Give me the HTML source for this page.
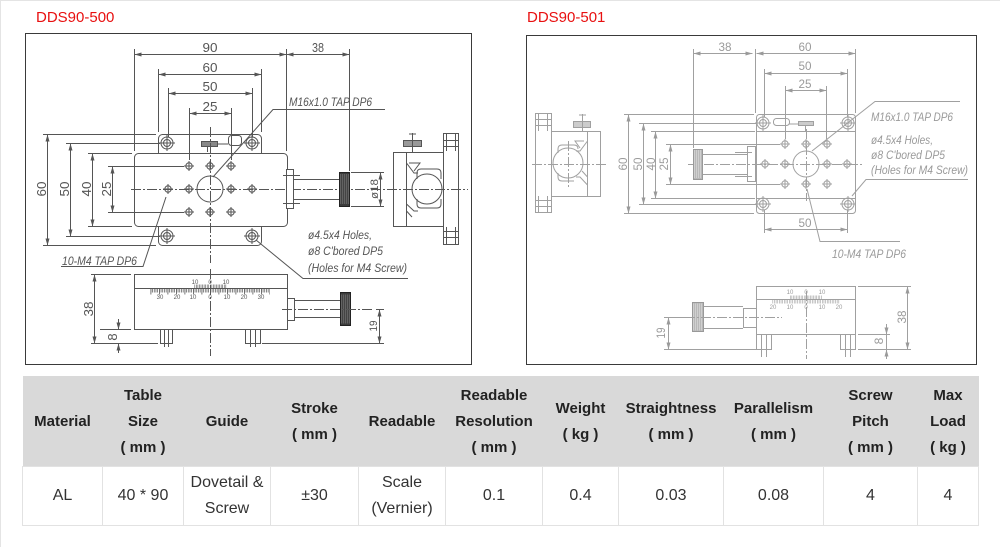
<!DOCTYPE html>
<html><head><meta charset="utf-8">
<style>
html,body{margin:0;padding:0;background:#fff;}
body{width:1000px;height:546px;position:relative;overflow:hidden;font-family:"Liberation Sans",sans-serif;border-top:1px solid #e4e4e4;box-sizing:border-box;}
svg{position:absolute;left:0;top:0;}
table{position:absolute;left:22px;top:375px;width:956px;border-collapse:collapse;table-layout:fixed;}
th{background:#d9d9d9;height:88px;font-size:15px;font-weight:bold;color:#222;line-height:26px;padding:2px 0 0 0;text-align:center;vertical-align:middle;}
td{height:58px;font-size:16px;color:#333;line-height:26px;text-align:center;vertical-align:middle;border:1px solid #e2e2e2;padding:0;}
</style></head><body>
<svg width="1000" height="546" viewBox="0 0 1000 546" xmlns="http://www.w3.org/2000/svg">
<defs>
<marker id="ad" markerUnits="userSpaceOnUse" markerWidth="7" markerHeight="4" viewBox="0 0 7 4" refX="7" refY="2" orient="auto-start-reverse"><path d="M0,0L7,2L0,4z" fill="#555"/></marker>
<marker id="al" markerUnits="userSpaceOnUse" markerWidth="7" markerHeight="4" viewBox="0 0 7 4" refX="7" refY="2" orient="auto-start-reverse"><path d="M0,0L7,2L0,4z" fill="#9a9a9a"/></marker>
<g id="h4"><circle r="3.2"/><path d="M-5,0H5M0,-5V5"/></g>
<g id="cb"><circle r="6"/><circle r="3.5"/><path d="M-8,0H8M0,-8V8"/></g>
</defs>
<rect x="0" y="0" width="1" height="546" fill="#e4e4e4"/>
<text x="36" y="21" font-family="Liberation Sans" font-size="15" fill="#e81010">DDS90-500</text>
<text x="527" y="21" font-family="Liberation Sans" font-size="15" fill="#e81010">DDS90-501</text>

<!-- ================= LEFT DRAWING ================= -->
<g fill="none" stroke="#555" stroke-width="1">
 <rect x="25.5" y="32.5" width="446" height="331" stroke="#3a3a3a"/>
 <rect x="158.5" y="133.5" width="103" height="111" rx="4"/>
 <rect x="134.5" y="152.5" width="153" height="73" rx="4" fill="#fff"/>
 <use href="#cb" x="167" y="142"/><use href="#cb" x="252" y="142"/>
 <use href="#cb" x="167" y="235"/><use href="#cb" x="252" y="235"/>
 <use href="#h4" x="189" y="165"/><use href="#h4" x="210" y="165"/><use href="#h4" x="231" y="165"/>
 <use href="#h4" x="168" y="188"/><use href="#h4" x="189" y="188"/><use href="#h4" x="231" y="188"/><use href="#h4" x="252" y="188"/>
 <use href="#h4" x="189" y="211"/><use href="#h4" x="210" y="211"/><use href="#h4" x="231" y="211"/>
 <circle cx="210" cy="188" r="13"/>
 <rect x="201.5" y="140.5" width="16" height="5" fill="#888"/>
 <path d="M207.5,145V151 M217,143H228"/>
 <rect x="228.5" y="134.5" width="13" height="10" rx="3"/>
 <path d="M134.5,48V150 M286.5,48V150 M349.5,48V170 M158.5,68V131 M261.5,68V131 M168.5,87V136 M252.5,87V136 M189.5,107V159 M231.5,107V159"/>
 <path d="M43,133.5H156 M66,142.5H160 M88,152.5H132 M108,165.5H184 M43,244.5H156 M66,235.5H160 M88,225.5H132 M108,211.5H184 M351,171.5H384 M351,205.5H384"/>
 <g marker-start="url(#ad)" marker-end="url(#ad)">
  <line x1="134.5" y1="53.5" x2="286.5" y2="53.5"/>
  <line x1="286.5" y1="53.5" x2="349.5" y2="53.5"/>
  <line x1="158.5" y1="73.5" x2="261.5" y2="73.5"/>
  <line x1="168.5" y1="92.5" x2="252.5" y2="92.5"/>
  <line x1="189.5" y1="112.5" x2="231.5" y2="112.5"/>
  <line x1="47.5" y1="133.5" x2="47.5" y2="244.5"/>
  <line x1="70.5" y1="142.5" x2="70.5" y2="235.5"/>
  <line x1="92.5" y1="152.5" x2="92.5" y2="225.5"/>
  <line x1="112.5" y1="165.5" x2="112.5" y2="211.5"/>
  <line x1="380.5" y1="171.5" x2="380.5" y2="205.5"/>
  <line x1="94.5" y1="273.5" x2="94.5" y2="342.5"/>
  <line x1="379.5" y1="308.5" x2="379.5" y2="342.5"/>
 </g>
 <path stroke-dasharray="10 2 2 2" d="M131,188.5H468 M210.5,126V262"/>
 <rect x="286.5" y="168.5" width="7" height="39" fill="#fff"/>
 <path d="M283,174.5H300 M283,202.5H300 M294,178.5H339 M294,198.5H339"/>
 <rect x="339.5" y="171.5" width="10" height="34" fill="#3c3c3c" stroke="#222"/>
 <line x1="340.5" y1="188" x2="349" y2="188" stroke="#8a8a8a" stroke-width="30" stroke-dasharray="0.6 1.4"/>
 <rect x="393.5" y="151.5" width="50" height="74"/>
 <rect x="443.5" y="132.5" width="15" height="111"/>
 <path d="M446.5,132.5V150 M455.5,132.5V150 M443.5,139.5H458.5 M443.5,145.5H458.5 M446.5,226V243.5 M455.5,226V243.5 M443.5,230.5H458.5 M443.5,236.5H458.5"/>
 <circle cx="427" cy="188" r="15"/>
 <path d="M417,178V172Q417,168 421,168H437Q441,168 441,172V178 M417,198V203Q417,207 421,207H437Q441,207 441,203V198"/>
 <path d="M406.5,151.5V225.5 M406.5,162L414,172H418 M409,162H420L414,170 M406.5,203L414,210H418 M406.5,210L412,216"/>
 <rect x="403.5" y="139.5" width="18" height="6" fill="#999"/>
 <path d="M412.5,132V151 M409,133H416"/>
 <path d="M213,176L273,108.5H385"/>
 <path d="M166,196L143,265.5H61"/>
 <path d="M256,239L303,277.5H408"/>
 <rect x="134.5" y="273.5" width="153" height="55"/>
 <line x1="134.5" y1="287.5" x2="287.5" y2="287.5"/>
 <line x1="150.5" y1="289.5" x2="270" y2="289.5" stroke-width="4" stroke-dasharray="0.7 1"/>
 <line x1="150.5" y1="290.5" x2="270" y2="290.5" stroke-width="6" stroke-dasharray="0.8 7.7"/>
 <line x1="194.5" y1="285.5" x2="226.5" y2="285.5" stroke-width="4" stroke-dasharray="0.6 0.95"/>
 <rect x="287.5" y="297.5" width="7" height="22"/>
 <path d="M294.5,299.5H340 M294.5,316.5H340"/>
 <rect x="340.5" y="291.5" width="10" height="33" fill="#3c3c3c" stroke="#222"/>
 <line x1="341.5" y1="308" x2="350" y2="308" stroke="#8a8a8a" stroke-width="29" stroke-dasharray="0.6 1.4"/>
 <rect x="160.5" y="328.5" width="12" height="14"/>
 <path d="M164.5,328.5V346 M168.5,328.5V346"/>
 <rect x="245.5" y="328.5" width="15" height="14"/>
 <path d="M250.5,328.5V346 M255.5,328.5V346"/>
 <path d="M91,342.5H158 M262,342.5H384 M91,273.5H131 M100,328.5H131 M376,308.5H384"/>
 <line x1="118.5" y1="318" x2="118.5" y2="328.5" marker-end="url(#ad)"/>
 <line x1="118.5" y1="352" x2="118.5" y2="342.5" marker-end="url(#ad)"/>
 <path stroke-dasharray="10 2 2 2" d="M282,308.5H374 M210.5,268V355"/>
</g>
<g font-family="Liberation Sans" font-size="13" fill="#555" text-anchor="middle">
 <text x="210" y="51" textLength="15" lengthAdjust="spacingAndGlyphs">90</text>
 <text x="318" y="51" textLength="12" lengthAdjust="spacingAndGlyphs">38</text>
 <text x="210" y="71" textLength="15" lengthAdjust="spacingAndGlyphs">60</text>
 <text x="210" y="90" textLength="15" lengthAdjust="spacingAndGlyphs">50</text>
 <text x="210" y="110" textLength="15" lengthAdjust="spacingAndGlyphs">25</text>
 <text transform="translate(46,188) rotate(-90)" textLength="15" lengthAdjust="spacingAndGlyphs">60</text>
 <text transform="translate(69,188) rotate(-90)" textLength="15" lengthAdjust="spacingAndGlyphs">50</text>
 <text transform="translate(91,188) rotate(-90)" textLength="15" lengthAdjust="spacingAndGlyphs">40</text>
 <text transform="translate(111,188) rotate(-90)" textLength="15" lengthAdjust="spacingAndGlyphs">25</text>
 <text transform="translate(378,188) rotate(-90)" font-size="11" textLength="20" lengthAdjust="spacingAndGlyphs">ø18</text>
 <text transform="translate(93,308) rotate(-90)" textLength="15" lengthAdjust="spacingAndGlyphs">38</text>
 <text transform="translate(117,336) rotate(-90)">8</text>
 <text transform="translate(377,325) rotate(-90)" font-size="11" textLength="11" lengthAdjust="spacingAndGlyphs">19</text>
 <g font-size="6">
  <text x="195" y="283">10</text><text x="210" y="283">0</text><text x="226" y="283">10</text>
  <text x="160" y="298">30</text><text x="177" y="298">20</text><text x="193" y="298">10</text><text x="210" y="298">0</text><text x="227" y="298">10</text><text x="244" y="298">20</text><text x="261" y="298">30</text>
 </g>
</g>
<g font-family="Liberation Sans" font-size="12" font-style="italic" fill="#555">
 <text x="289" y="105" textLength="83" lengthAdjust="spacingAndGlyphs">M16x1.0 TAP DP6</text>
 <text x="308" y="238" textLength="64" lengthAdjust="spacingAndGlyphs">ø4.5x4 Holes,</text>
 <text x="308" y="254" textLength="75" lengthAdjust="spacingAndGlyphs">ø8 C'bored DP5</text>
 <text x="308" y="271" textLength="99" lengthAdjust="spacingAndGlyphs">(Holes for M4 Screw)</text>
 <text x="62" y="264" textLength="75" lengthAdjust="spacingAndGlyphs">10-M4 TAP DP6</text>
</g>

<!-- ================= RIGHT DRAWING ================= -->
<g fill="none" stroke="#a0a0a0" stroke-width="1">
 <rect x="526.5" y="34.5" width="450" height="329" stroke="#3a3a3a"/>
 <rect x="756.5" y="113.5" width="99" height="99" rx="3"/>
 <path d="M756.5,130.5H855.5 M756.5,197.5H855.5"/>
 <use href="#cb" x="763" y="122"/><use href="#cb" x="848" y="122"/>
 <use href="#cb" x="763" y="203"/><use href="#cb" x="848" y="203"/>
 <use href="#h4" x="785" y="143"/><use href="#h4" x="806" y="143"/><use href="#h4" x="827" y="143"/>
 <use href="#h4" x="765" y="163"/><use href="#h4" x="785" y="163"/><use href="#h4" x="827" y="163"/><use href="#h4" x="847" y="163"/>
 <use href="#h4" x="785" y="183"/><use href="#h4" x="806" y="183"/><use href="#h4" x="827" y="183"/>
 <circle cx="806" cy="163" r="13"/>
 <rect x="773.5" y="117.5" width="16" height="7" rx="3"/>
 <rect x="798.5" y="120.5" width="15" height="4" fill="#ccc"/>
 <path d="M789,123H798 M805.5,124.5V130"/>
 <path d="M693.5,48V147 M755.5,48V112 M855.5,48V112 M764.5,68V116 M847.5,68V116 M785.5,85V138 M826.5,85V138 M764.5,209V232 M847.5,209V232"/>
 <path d="M624,113.5H754 M639,122.5H757 M651,130.5H755 M666,143.5H780 M624,212.5H754 M639,203.5H757 M651,197.5H755 M666,183.5H780"/>
 <g marker-start="url(#al)" marker-end="url(#al)">
  <line x1="693.5" y1="52.5" x2="752.5" y2="52.5"/>
  <line x1="756.5" y1="52.5" x2="855.5" y2="52.5"/>
  <line x1="764.5" y1="72.5" x2="847.5" y2="72.5"/>
  <line x1="785.5" y1="89.5" x2="826.5" y2="89.5"/>
  <line x1="764.5" y1="228.5" x2="847.5" y2="228.5"/>
  <line x1="628.5" y1="113.5" x2="628.5" y2="212.5"/>
  <line x1="643.5" y1="122.5" x2="643.5" y2="203.5"/>
  <line x1="655.5" y1="130.5" x2="655.5" y2="197.5"/>
  <line x1="670.5" y1="143.5" x2="670.5" y2="183.5"/>
  <line x1="668.5" y1="316.5" x2="668.5" y2="348.5"/>
  <line x1="907.5" y1="285.5" x2="907.5" y2="348.5"/>
 </g>
 <path stroke-dasharray="10 2 2 2" d="M688,163.5H862 M806.5,128V200 M532,163.5H608 M568.5,140V186"/>
 <rect x="693.5" y="148.5" width="9" height="30" fill="#b8b8b8" stroke="#999"/>
 <line x1="694" y1="163" x2="702" y2="163" stroke="#e0e0e0" stroke-width="28" stroke-dasharray="0.6 1.4"/>
 <path d="M702.5,153.5H747 M702.5,173.5H747 M735,151.5H752 M735,175.5H752"/>
 <rect x="747.5" y="145.5" width="8" height="35"/>
 <rect x="535.5" y="112.5" width="16" height="99"/>
 <path d="M538.5,112.5V130 M547.5,112.5V130 M535.5,118.5H551.5 M535.5,124.5H551.5 M538.5,195V211.5 M547.5,195V211.5 M535.5,199.5H551.5 M535.5,205.5H551.5"/>
 <rect x="551.5" y="130.5" width="49" height="65"/>
 <circle cx="568" cy="162" r="15"/>
 <path d="M558,152V148Q558,144 562,144H574Q578,144 578,148 M558,172V176Q558,180 562,180H574"/>
 <path d="M587.5,130.5V195.5 M587.5,140L580,150H576 M584,140H575L580,147 M587.5,184L580,176H576 M587.5,176L582,170"/>
 <rect x="573.5" y="120.5" width="17" height="6" fill="#ccc"/>
 <path d="M582.5,113V130 M579,114H586"/>
 <path d="M812,150L875,100.5H960"/>
 <path d="M852,195L866,178.5H968"/>
 <path d="M807,188L820,240.5H900"/>
 <rect x="756.5" y="285.5" width="99" height="48"/>
 <line x1="756.5" y1="298.5" x2="855.5" y2="298.5"/>
 <line x1="772.5" y1="300.5" x2="840" y2="300.5" stroke-width="4" stroke-dasharray="0.6 1.05"/>
 <line x1="790" y1="296.5" x2="822.5" y2="296.5" stroke-width="4" stroke-dasharray="0.6 0.95"/>
 <rect x="756.5" y="333.5" width="15" height="15"/>
 <rect x="840.5" y="333.5" width="15" height="15"/>
 <path d="M761.5,333.5V356 M766.5,333.5V356 M845.5,333.5V356 M850.5,333.5V356"/>
 <rect x="692.5" y="301.5" width="11" height="29" fill="#b8b8b8" stroke="#999"/>
 <line x1="693" y1="316" x2="703" y2="316" stroke="#e0e0e0" stroke-width="27" stroke-dasharray="0.6 1.4"/>
 <path d="M703.5,305.5H743 M703.5,327.5H743"/>
 <rect x="743.5" y="307.5" width="13" height="19"/>
 <path stroke-dasharray="10 2 2 2" d="M685,316.5H782 M806.5,290V358"/>
 <path d="M664,316.5H690 M664,348.5H756 M858,285.5H911 M858,333.5H890 M858,348.5H911"/>
 <line x1="886.5" y1="323" x2="886.5" y2="333.5" marker-end="url(#al)"/>
 <line x1="886.5" y1="358" x2="886.5" y2="348.5" marker-end="url(#al)"/>
 <line x1="886.5" y1="333.5" x2="886.5" y2="348.5"/>
</g>
<g font-family="Liberation Sans" font-size="12" fill="#9a9a9a" text-anchor="middle">
 <text x="725" y="50" textLength="13" lengthAdjust="spacingAndGlyphs">38</text>
 <text x="805" y="50" textLength="13" lengthAdjust="spacingAndGlyphs">60</text>
 <text x="805" y="69" textLength="13" lengthAdjust="spacingAndGlyphs">50</text>
 <text x="805" y="87" textLength="13" lengthAdjust="spacingAndGlyphs">25</text>
 <text x="805" y="226" textLength="13" lengthAdjust="spacingAndGlyphs">50</text>
 <text transform="translate(627,163) rotate(-90)" textLength="13" lengthAdjust="spacingAndGlyphs">60</text>
 <text transform="translate(642,163) rotate(-90)" textLength="13" lengthAdjust="spacingAndGlyphs">50</text>
 <text transform="translate(655,163) rotate(-90)" textLength="13" lengthAdjust="spacingAndGlyphs">40</text>
 <text transform="translate(668,163) rotate(-90)" textLength="13" lengthAdjust="spacingAndGlyphs">25</text>
 <text transform="translate(665,332) rotate(-90)" textLength="11" lengthAdjust="spacingAndGlyphs">19</text>
 <text transform="translate(906,316) rotate(-90)" textLength="13" lengthAdjust="spacingAndGlyphs">38</text>
 <text transform="translate(883,340) rotate(-90)">8</text>
 <g font-size="6">
  <text x="790" y="293">10</text><text x="806" y="293">0</text><text x="822" y="293">10</text>
  <text x="773" y="308">20</text><text x="790" y="308">10</text><text x="806" y="308">0</text><text x="822" y="308">10</text><text x="839" y="308">20</text>
 </g>
</g>
<g font-family="Liberation Sans" font-size="12" font-style="italic" fill="#9a9a9a">
 <text x="871" y="120" textLength="82" lengthAdjust="spacingAndGlyphs">M16x1.0 TAP DP6</text>
 <text x="871" y="143" textLength="62" lengthAdjust="spacingAndGlyphs">ø4.5x4 Holes,</text>
 <text x="871" y="158" textLength="74" lengthAdjust="spacingAndGlyphs">ø8 C'bored DP5</text>
 <text x="871" y="173" textLength="97" lengthAdjust="spacingAndGlyphs">(Holes for M4 Screw)</text>
 <text x="832" y="257" textLength="74" lengthAdjust="spacingAndGlyphs">10-M4 TAP DP6</text>
</g>
</svg>

<table>
<colgroup>
<col style="width:80px"><col style="width:81px"><col style="width:87px"><col style="width:88px"><col style="width:87px"><col style="width:97px"><col style="width:76px"><col style="width:105px"><col style="width:100px"><col style="width:94px"><col style="width:61px">
</colgroup>
<tr>
<th>Material</th>
<th>Table<br>Size<br>( mm )</th>
<th>Guide</th>
<th>Stroke<br>( mm )</th>
<th>Readable</th>
<th>Readable<br>Resolution<br>( mm )</th>
<th>Weight<br>( kg )</th>
<th>Straightness<br>( mm )</th>
<th>Parallelism<br>( mm )</th>
<th>Screw<br>Pitch<br>( mm )</th>
<th>Max<br>Load<br>( kg )</th>
</tr>
<tr>
<td>AL</td>
<td>40 * 90</td>
<td>Dovetail &amp;<br>Screw</td>
<td>±30</td>
<td>Scale<br>(Vernier)</td>
<td>0.1</td>
<td>0.4</td>
<td>0.03</td>
<td>0.08</td>
<td>4</td>
<td>4</td>
</tr>
</table>
</body></html>
